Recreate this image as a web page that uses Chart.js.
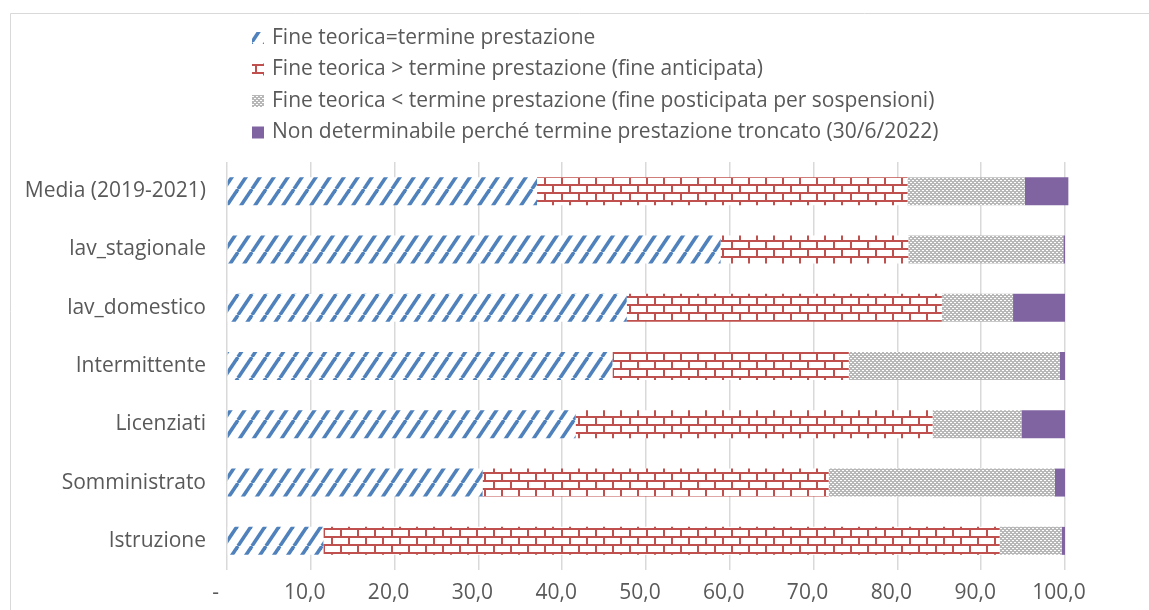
<!DOCTYPE html>
<html lang="it">
<head>
<meta charset="utf-8">
<title>Fine teorica e termine prestazione</title>
<script src="https://cdn.jsdelivr.net/npm/chart.js@4.4.1/dist/chart.umd.min.js"></script>
<style>
  html, body { margin: 0; padding: 0; background: #fff; overflow: hidden; }
  #wrap { position: relative; width: 1149px; height: 610px; }
</style>
</head>
<body>
<div id="wrap"><canvas id="durataChart"></canvas></div>
<script>
const categorie = ["Media (2019-2021)", "lav_stagionale", "lav_domestico", "Intermittente", "Licenziati", "Somministrato", "Istruzione"];
const fineUguale = [37.0, 58.9, 47.7, 46.0, 41.6, 30.5, 11.5];
const fineAnticipata = [44.2, 22.4, 37.6, 28.2, 42.6, 41.3, 80.7];
const finePosticipata = [14.0, 18.5, 8.5, 25.2, 10.6, 27.0, 7.4];
const nonDeterminabile = [5.2, 0.2, 6.2, 0.6, 5.2, 1.2, 0.4];
const etichetteAsse = ["-  ", "10,0", "20,0", "30,0", "40,0", "50,0", "60,0", "70,0", "80,0", "90,0", "100,0"];
const nomiSerie = [
  "Fine teorica=termine prestazione",
  "Fine teorica > termine prestazione (fine anticipata)",
  "Fine teorica < termine prestazione (fine posticipata per sospensioni)",
  "Non determinabile perché termine prestazione troncato (30/6/2022)"
];

const grigioTesto = "#595959";
const FONT = '"Open Sans", sans-serif';
Chart.defaults.font.family = FONT;
Chart.defaults.font.size = 21;
Chart.defaults.color = grigioTesto;

// small tiles used as fill patterns (like the Excel pattern fills)
function motivo(w, h, disegna) {
  const c = document.createElement("canvas");
  c.width = w;
  c.height = h;
  const g = c.getContext("2d");
  disegna(g, w, h);
  return g.createPattern(c, "repeat");
}

const righeBlu = motivo(14, 21, (g, w, h) => {
  g.fillStyle = "#fff";
  g.fillRect(0, 0, w, h);
  g.strokeStyle = "#4f81bd";
  g.lineWidth = 3.5;
  for (let k = -1; k <= 1; k++) {
    g.beginPath();
    g.moveTo(k * w, h);
    g.lineTo(k * w + w, 0);
    g.stroke();
  }
});

const mattoniRossi = motivo(17, 16, (g, w, h) => {
  g.fillStyle = "#fff";
  g.fillRect(0, 0, w, h);
  g.fillStyle = "#c0504d";
  g.fillRect(0, 0, w, 2);
  g.fillRect(0, 8, w, 2);
  g.fillRect(0, 2, 2, 6);
  g.fillRect(8, 10, 2, 6);
});

const puntiniGrigi = motivo(4, 4, (g) => {
  g.fillStyle = "#b8b8b8";
  g.fillRect(0, 0, 4, 4);
  g.fillStyle = "#fff";
  g.fillRect(0, 0, 2, 1);
  g.fillRect(2, 2, 2, 1);
});

const viola = "#8064a2";

// legend drawn as one column, left aligned like the original
const legendaColonna = {
  id: "legendaColonna",
  afterDraw(chart) {
    const ctx = chart.ctx;
    ctx.save();
    ctx.font = "21px " + FONT;
    ctx.textBaseline = "middle";
    chart.data.datasets.forEach((ds, i) => {
      const cy = 38 + i * 31.5;
      ctx.fillStyle = ds.backgroundColor;
      ctx.fillRect(252, cy - 6, 12, 12);
      ctx.fillStyle = grigioTesto;
      ctx.fillText(ds.label, 272, cy);
    });
    ctx.restore();
  }
};

const cornice = {
  id: "cornice",
  beforeDraw(chart) {
    const ctx = chart.ctx;
    ctx.save();
    ctx.strokeStyle = "#d9d9d9";
    ctx.lineWidth = 1;
    ctx.beginPath();
    ctx.moveTo(10.5, 610);
    ctx.lineTo(10.5, 13.5);
    ctx.lineTo(1149, 13.5);
    ctx.stroke();
    ctx.restore();
  }
};

const comuni = { barPercentage: 0.48, categoryPercentage: 1, borderWidth: 0, clip: 8 };

const data = {
  labels: categorie,
  datasets: [
    { label: nomiSerie[0], data: fineUguale, backgroundColor: righeBlu, ...comuni },
    { label: nomiSerie[1], data: fineAnticipata, backgroundColor: mattoniRossi, ...comuni },
    { label: nomiSerie[2], data: finePosticipata, backgroundColor: puntiniGrigi, ...comuni },
    { label: nomiSerie[3], data: nonDeterminabile, backgroundColor: viola, ...comuni }
  ]
};

const config = {
  type: "bar",
  data: data,
  plugins: [cornice, legendaColonna],
  options: {
    indexAxis: "y",
    responsive: true,
    maintainAspectRatio: false,
    animation: false,
    layout: { padding: { top: 162, right: 84, bottom: 0, left: 0 } },
    scales: {
      x: {
        stacked: true,
        min: 0,
        max: 100,
        ticks: {
          stepSize: 10,
          padding: 10,
          labelOffset: -6,
          maxRotation: 0,
          autoSkip: false,
          callback: (v, i) => etichetteAsse[i]
        },
        grid: { color: "#d9d9d9", lineWidth: 1.5, drawTicks: false },
        border: { display: false },
        afterFit: (s) => { s.height = 40; }
      },
      y: {
        stacked: true,
        ticks: { padding: 13 },
        grid: { display: false },
        border: { display: false },
        afterFit: (s) => { s.width = 227; }
      }
    },
    plugins: {
      legend: { display: false },
      tooltip: {
        callbacks: {
          label: (item) => `${item.dataset.label}: ${item.raw.toFixed(1).replace(".", ",")}`
        }
      }
    }
  }
};

const durataChart = new Chart(document.getElementById("durataChart"), config);
</script>
</body>
</html>
